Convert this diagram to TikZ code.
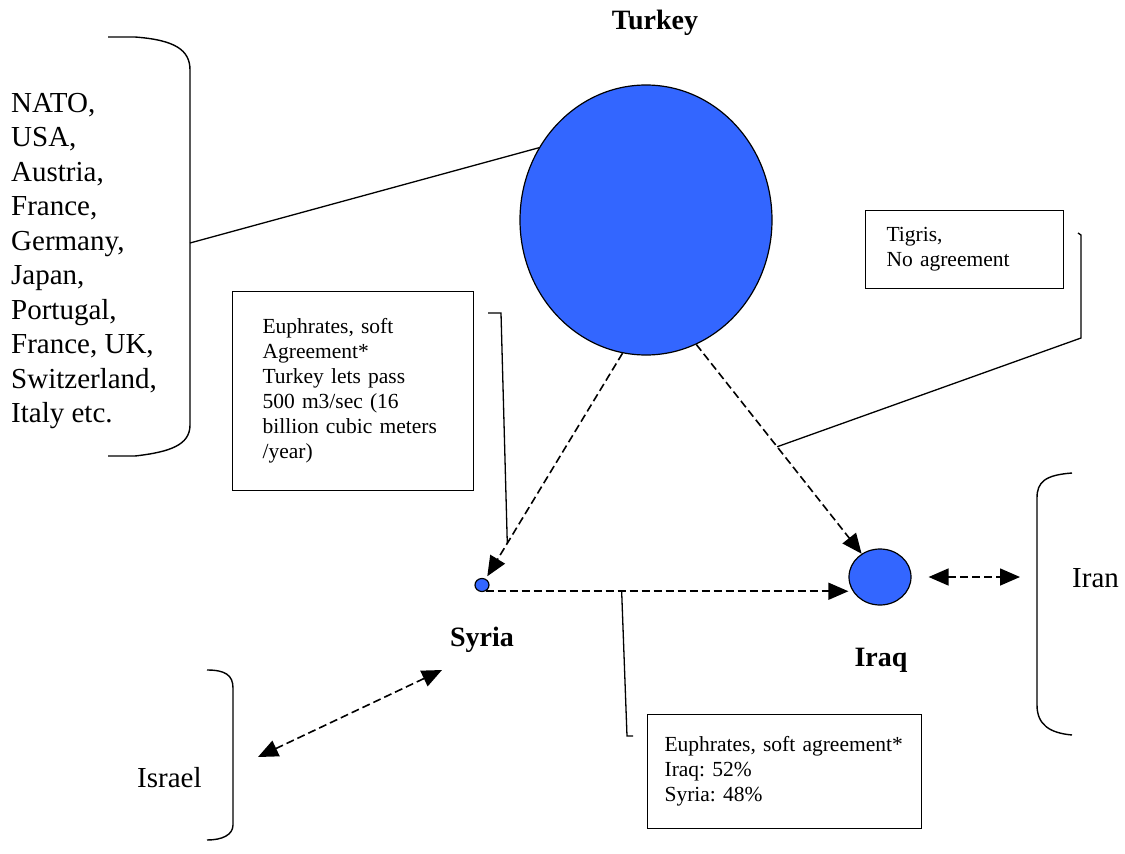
\documentclass[tikz,border=0pt]{standalone}
\usepackage{fontspec}
\setmainfont{Liberation Serif}
\usepackage{tikz}
\usetikzlibrary{arrows.meta, positioning, calc, shapes.geometric}

\definecolor{nationblue}{RGB}{51,102,255}
\frenchspacing

\begin{document}
\begin{tikzpicture}[x=1pt, y=-1pt,
		nation/.style={ellipse, draw, fill=nationblue, line width=1.2pt, inner sep=0pt},
		infobox/.style={draw, line width=1.2pt, align=left, inner ysep=0pt, font=\fontsize{21.5}{25}\selectfont},
		country/.style={font=\fontsize{28}{32}\selectfont\bfseries, inner sep=0pt},
		plain/.style={font=\fontsize{29}{34.5}\selectfont, inner sep=0pt, align=left},
		flow/.style={-{Triangle[length=20pt,width=17pt]}, dash pattern=on 8pt off 4pt, line width=1.6pt},
		twoway/.style={{Triangle[length=20pt,width=17pt]}-{Triangle[length=20pt,width=17pt]}, dash pattern=on 8pt off 4pt, line width=1.6pt},
		callout/.style={line width=1.3pt},
		brace/.style={line width=1.4pt}]
	\useasboundingbox (0,0) rectangle (1125,854);

	% countries
	\node[nation, minimum width=252, minimum height=270] (turkey) at (646,220) {};
	\node[nation, minimum width=14, minimum height=13] (syria) at (482,585) {};
	\node[nation, minimum width=62, minimum height=56] (iraq) at (880,577) {};
	\node[country, anchor=base] (turkeylbl) at (655,29) {Turkey};
	\node[country, anchor=base] (syrialbl) at (482,646) {Syria};
	\node[country, anchor=base] (iraqlbl) at (881,666) {Iraq};
	\node[plain, anchor=base west] (israel) at (137,787) {Israel};
	\node[plain, anchor=base west] (iran) at (1072,587) {Iran};
	\node[plain, anchor=north west] (allies) at (11,93)
		{NATO,\\USA,\\Austria,\\France,\\Germany,\\Japan,\\Portugal,\\France, UK,\\Switzerland,\\Italy etc.};

	% agreements
	\node[infobox, anchor=north west, minimum width=241, minimum height=199, text width=181, inner xsep=30] (euphA) at (232,291)
		{Euphrates, soft\\Agreement*\\Turkey lets pass\\500 m3/sec (16\\billion cubic meters\\/year)};
	\node[infobox, anchor=north west, minimum width=198, minimum height=78, text width=156, inner xsep=21] (tigris) at (865,210)
		{Tigris,\\No agreement};
	\node[infobox, anchor=north west, minimum width=274, minimum height=114, text width=240, inner xsep=17] (euphB) at (647,714)
		{Euphrates, soft agreement*\\Iraq: 52\%\\Syria: 48\%};

	% brackets
	\draw[brace] (108,37) -- (135,37) .. controls (175,40) and (190,50) .. (190,70)
		-- (190,425) .. controls (190,445) and (170,452) .. (135,456) -- (108,456);
	\draw[brace] (1072,473) .. controls (1045,475) and (1037,482) .. (1037,498)
		-- (1037,705) .. controls (1037,725) and (1050,733) .. (1072,735);
	\draw[brace] (207,670) .. controls (225,670) and (233,675) .. (233,688)
		-- (233,825) .. controls (233,835) and (222,840) .. (207,840);
	\coordinate (alliesbr) at (190,243);
	\coordinate (iranbr) at (1037,577);
	\coordinate (israelarr) at (258,757);
	\coordinate (syriaarr) at (442,670);

	% flows
	\draw[flow, shorten >=3pt] (turkey.-100) -- (syria);
	\draw[flow] (turkey.-68) -- (iraq);
	\draw[flow] (syria.-60) -- (syria.-60 -| iraq.west);
	\draw[twoway, shorten <=17pt, shorten >=17pt] (iraq.east) -- (iranbr);
	\draw[twoway] (israelarr) -- (syriaarr);

	% callouts
	\coordinate (cA) at ($(turkey.-100)!0.82!(syria)$);
	\coordinate (cT) at ($(turkey.-68)!0.44!(iraq)$);
	\coordinate (cB) at ($(syria.-60)!0.375!(syria.-60 -| iraq.west)$);
	\draw[callout] (alliesbr) -- (turkey.146);
	\draw[callout] (488,313) -- (501,313) -- (cA);
	\draw[callout] (1078,233) -- (1081,235) -- (1081,338) -- (cT);
	\draw[callout] (cB) -- (627,736) -- (633,736);
\end{tikzpicture}
\end{document}
